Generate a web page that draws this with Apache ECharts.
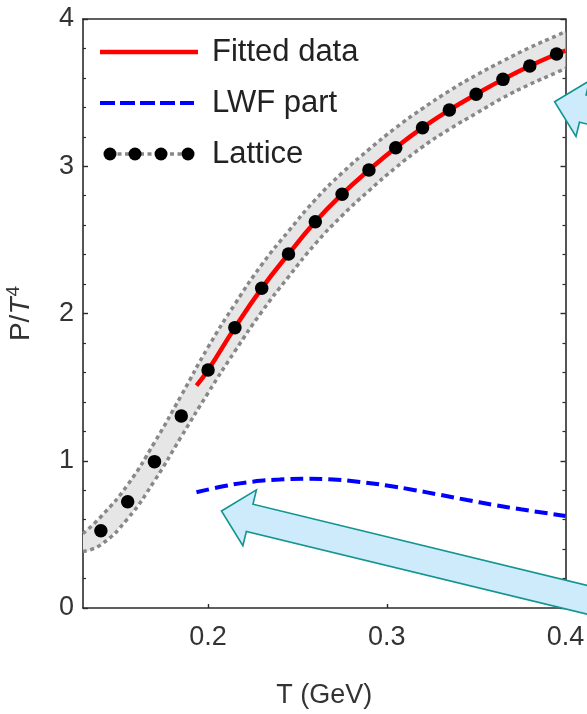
<!DOCTYPE html>
<html>
<head>
<meta charset="utf-8">
<script src="https://cdn.jsdelivr.net/npm/echarts@6/dist/echarts.min.js"></script>
<style>
html,body{margin:0;padding:0;background:#fff;}
#chart{width:587px;height:714px;}
</style>
</head>
<body>
<div id="chart"></div>
<script>
// ---- data ----
const latticeT = [0.14,0.155,0.17,0.185,0.2,0.215,0.23,0.245,0.26,0.275,0.29,0.305,0.32,0.335,0.35,0.365,0.38,0.395];
const latticeP = [0.525,0.722,0.994,1.304,1.616,1.904,2.171,2.404,2.623,2.81,2.974,3.126,3.262,3.382,3.489,3.59,3.681,3.762];

const bandT     = [0.13,0.14,0.155,0.17,0.185,0.2,0.215,0.23,0.245,0.26,0.275,0.29,0.305,0.32,0.335,0.35,0.365,0.38,0.395,0.4];
const bandUpper = [0.505,0.62,0.837,1.124,1.444,1.771,2.064,2.331,2.559,2.773,2.955,3.114,3.261,3.392,3.512,3.619,3.715,3.806,3.887,3.915];
const bandLower = [0.385,0.43,0.607,0.864,1.164,1.461,1.744,2.011,2.249,2.473,2.665,2.834,2.991,3.132,3.252,3.359,3.465,3.556,3.637,3.665];

const fitT = [0.1935,0.2,0.215,0.23,0.245,0.26,0.275,0.29,0.305,0.32,0.335,0.35,0.365,0.38,0.395,0.4];
const fitP = [1.51,1.616,1.904,2.171,2.404,2.623,2.81,2.974,3.126,3.262,3.382,3.489,3.59,3.681,3.762,3.785];

const lwfT = [0.1935,0.21,0.225,0.24,0.255,0.27,0.285,0.30,0.315,0.33,0.345,0.36,0.375,0.39,0.40];
const lwfP = [0.786,0.83,0.858,0.872,0.877,0.872,0.856,0.832,0.802,0.768,0.733,0.70,0.67,0.643,0.625];

const xTickValues = [0.2,0.3,0.4];
const yTickValues = [0,1,2,3,4];

const legendNames = ['Fitted data','LWF part','Lattice'];
const arrowTips = [[0.2075,0.659],[0.3939,3.438]];

// ---- chart ----
const zip = (a,b)=>a.map((v,i)=>[v,b[i]]);
const chart = echarts.init(document.getElementById('chart'), null, {renderer:'canvas'});
const FONT = '"Liberation Sans", Arial, sans-serif';
const AXC = '#2b2b2b';

const option = {
  animation:false,
  backgroundColor:'#ffffff',
  grid:{left:83,right:21.5,top:19,bottom:106,containLabel:false,outerBoundsMode:'none'},
  xAxis:[{
    type:'value',min:0.13,max:0.4,position:'bottom',
    name:'T (GeV)',nameLocation:'middle',nameGap:74,
    nameTextStyle:{fontFamily:FONT,fontSize:27,color:'#333'},
    axisLine:{show:true,onZero:false,lineStyle:{color:AXC,width:1.6}},
    axisTick:{show:true,inside:true,length:4,customValues:xTickValues,lineStyle:{color:AXC,width:1.4}},
    axisLabel:{show:true,customValues:xTickValues,margin:16,fontFamily:FONT,fontSize:27,color:'#333',
      formatter:v=>v.toFixed(1)},
    splitLine:{show:false}
  },{
    type:'value',min:0.13,max:0.4,position:'top',
    axisLine:{show:true,onZero:false,lineStyle:{color:AXC,width:1.6}},
    axisTick:{show:false},axisLabel:{show:false},splitLine:{show:false}
  }],
  yAxis:[{
    type:'value',min:0,max:4,interval:1,position:'left',
    name:'{a|P/}{i|T}{s|4}',nameLocation:'middle',nameGap:45,nameRotate:90,
    nameTextStyle:{fontFamily:FONT,fontSize:28,color:'#333',
      rich:{a:{fontFamily:FONT,fontSize:28,color:'#333'},
            i:{fontFamily:FONT,fontSize:28,fontStyle:'italic',color:'#333'},
            s:{fontFamily:FONT,fontSize:19,color:'#333',verticalAlign:'top',padding:[0,0,15,1]}}},
    axisLine:{show:true,onZero:false,lineStyle:{color:AXC,width:1.6}},
    axisTick:{show:true,inside:true,length:5,lineStyle:{color:AXC,width:1.4}},
    minorTick:{show:true,splitNumber:5,length:3,lineStyle:{color:AXC,width:1.2}},
    axisLabel:{show:true,margin:9,fontFamily:FONT,fontSize:27,color:'#333'},
    splitLine:{show:false},minorSplitLine:{show:false}
  },{
    type:'value',min:0,max:4,interval:1,position:'right',
    axisLine:{show:true,onZero:false,lineStyle:{color:AXC,width:1.6}},
    axisTick:{show:true,inside:true,length:5,lineStyle:{color:AXC,width:1.4}},
    minorTick:{show:true,splitNumber:5,length:3,lineStyle:{color:AXC,width:1.2}},
    axisLabel:{show:false},splitLine:{show:false},minorSplitLine:{show:false}
  }],
  series:[
    {
      name:'band',type:'custom',xAxisIndex:0,yAxisIndex:0,z:1,silent:true,
      data:[0],
      renderItem:function(params,api){
        const pts=[];
        for(let i=0;i<bandT.length;i++) pts.push(api.coord([bandT[i],bandUpper[i]]));
        for(let i=bandT.length-1;i>=0;i--) pts.push(api.coord([bandT[i],bandLower[i]]));
        return {type:'polygon',shape:{points:pts,smooth:0.3},style:{fill:'#e6e6e6'},
          clipPath:{type:'rect',shape:{x:params.coordSys.x,y:params.coordSys.y,width:params.coordSys.width,height:params.coordSys.height}}};
      }
    },
    {name:'upper',type:'line',data:zip(bandT,bandUpper),smooth:true,showSymbol:false,z:2,silent:true,
      lineStyle:{color:'#888888',width:3.5,type:[4,3.5]}},
    {name:'lower',type:'line',data:zip(bandT,bandLower),smooth:true,showSymbol:false,z:2,silent:true,
      lineStyle:{color:'#888888',width:3.5,type:[4,3.5]}},
    {name:legendNames[0],type:'line',data:zip(fitT,fitP),smooth:true,showSymbol:false,z:3,
      lineStyle:{color:'#ff0000',width:4.5}},
    {name:legendNames[2],type:'scatter',data:zip(latticeT,latticeP),symbol:'circle',symbolSize:13.5,z:4,
      itemStyle:{color:'#000000',opacity:1}},
    {name:legendNames[1],type:'line',data:zip(lwfT,lwfP),smooth:true,showSymbol:false,z:3,
      lineStyle:{color:'#0000ff',width:4,type:[13,6]}}
  ]
};
chart.setOption(option);

// ---- annotations: legend + arrows ----
const graphics=[];
const legY=[52,103,154];
graphics.push({type:'line',shape:{x1:100,y1:legY[0],x2:198,y2:legY[0]},style:{stroke:'#ff0000',lineWidth:4.5},z:50});
graphics.push({type:'line',shape:{x1:100,y1:legY[1],x2:194,y2:legY[1]},style:{stroke:'#0000ff',lineWidth:4,lineDash:[15,5]},z:50});
graphics.push({type:'line',shape:{x1:110,y1:legY[2],x2:189,y2:legY[2]},style:{stroke:'#888888',lineWidth:3.5,lineDash:[4,3.5]},z:50});
[110,135,161,188].forEach(cx=>graphics.push({type:'circle',shape:{cx:cx,cy:legY[2],r:6.5},style:{fill:'#000'},z:51}));
legendNames.forEach((n,i)=>graphics.push({type:'text',x:212,y:legY[i],
  style:{text:n,fontFamily:FONT,fontSize:31,fill:'#222',textVerticalAlign:'middle',textAlign:'left'},z:50}));

const d=[0.971,0.236], nrm=[-0.236,0.971];
function arrowPts(tip){
  const P=(a,b)=>[tip[0]+a*d[0]+b*nrm[0], tip[1]+a*d[1]+b*nrm[1]];
  return [P(0,0),P(29,-28.7),P(29,-14),P(700,-14),P(700,14),P(29,14),P(29,28.7)];
}
arrowTips.forEach(t=>{
  const px=chart.convertToPixel({xAxisIndex:0,yAxisIndex:0},t);
  graphics.push({type:'polygon',shape:{points:arrowPts(px)},
    style:{fill:'#cdebfb',stroke:'#129590',lineWidth:1.6},z:100});
});
chart.setOption({graphic:graphics});
</script>
</body>
</html>
